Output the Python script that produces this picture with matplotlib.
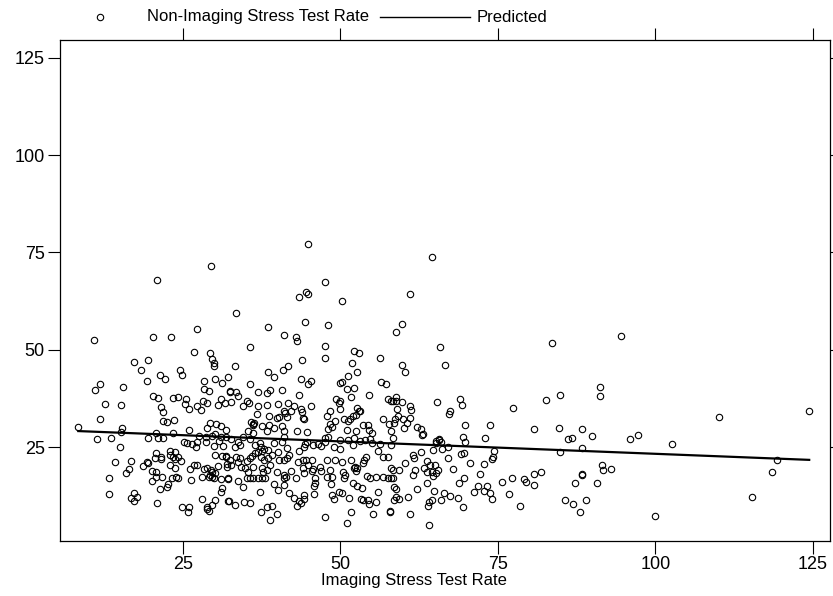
import numpy as np
import matplotlib
matplotlib.use("Agg")
import matplotlib.pyplot as plt
from matplotlib.lines import Line2D

plt.rcParams['font.family'] = ['Liberation Sans', 'DejaVu Sans']

# scatter points (imaging rate, non-imaging rate)
pts = [
    (44.9,77.2),(29.4,71.5),(20.9,67.9),(44.5,64.9),(44.9,64.3),(43.4,63.5),(33.5,59.5),(44.4,57.1),
    (27.2,55.3),(38.5,55.8),(41.0,53.8),(64.6,73.8),(47.5,67.3),(50.3,62.5),(61.1,64.3),(48.1,56.4),
    (59.8,56.6),(58.9,54.6),
    (83.6,51.8),(94.5,53.5),(84.9,38.4),(91.2,40.4),(91.2,38.1),(110.1,32.6),(124.3,34.2),(84.7,29.9),
    (88.3,29.7),(89.9,27.8),(97.2,28.0),(96.0,27.0),(86.1,27.0),(86.8,27.4),(84.9,23.6),(88.3,24.8),
    (102.6,25.7),(119.3,21.7),(118.5,18.6),(91.5,20.4),(91.7,19.0),(93.0,19.4),(88.3,17.9),(88.4,18.1),
    (87.3,15.7),(90.8,15.8),(85.6,11.4),(86.9,10.3),(88.9,11.3),(88.0,8.2),(99.9,7.3),(115.3,12.1),
    (10.9,52.4),(20.2,53.2),(23.1,53.2),(26.8,49.3),(29.3,49.2),(29.6,47.7),(29.9,46.5),(30.0,45.7),
    (17.2,46.9),(19.5,47.4),(18.3,44.8),(21.3,43.5),(22.1,42.6),(24.5,44.8),(24.9,43.6),(19.3,41.9),
    (28.3,42.0),(30.1,42.6),(31.2,41.5),(32.2,42.9),(11.8,41.3),(11.1,39.6),(15.5,40.4),(28.3,40.0),
    (29.1,39.5),(32.4,39.3),(20.3,38.1),(21.0,37.7),(23.5,37.7),(24.2,37.9),(25.5,37.3),(25.4,36.1),
    (26.0,34.8),(21.6,35.4),(21.9,34.1),(12.7,36.1),(15.2,35.7),(27.3,35.5),(27.8,34.5),(28.2,36.7),
    (28.9,36.2),(30.6,35.7),(31.0,37.3),(31.7,36.3),(11.9,32.1),(21.9,31.8),(22.5,31.4),(23.6,31.9),
    (8.4,30.1),(15.3,30.0),(15.2,28.8),(29.3,31.2),(30.3,30.9),(31.1,30.5),(31.8,29.4),(28.9,30.0),
    (26.0,29.3),(20.7,28.6),(23.5,28.6),(11.4,27.0),(13.6,27.2),(19.4,27.2),(21.1,27.4),(21.9,27.2),
    (27.5,27.8),(28.6,27.5),(29.6,27.9),(30.1,28.3),(31.0,27.7),(31.8,27.5),
    (15.0,24.9),(14.2,21.1),(16.7,21.3),(16.4,19.3),(16.0,18.2),(13.3,17.0),(13.3,12.8),(17.2,13.1),
    (17.7,12.2),(16.7,12.0),(17.3,11.1),(18.6,20.1),(19.3,21.1),(19.5,20.9),(20.7,23.4),(20.6,22.3),
    (21.5,22.4),(21.5,21.8),(20.1,18.8),(20.8,18.6),(20.7,17.4),(20.1,16.3),(21.7,17.4),(21.3,14.3),
    (20.9,10.6),(22.9,24.0),(23.8,23.8),(23.0,23.0),(23.4,22.5),(23.8,21.9),(24.2,22.4),(24.7,21.4),
    (22.9,20.4),(23.8,19.5),(22.6,15.4),(22.5,14.6),(23.2,17.0),(23.9,17.4),(24.3,17.0),(24.8,9.6),
    (26.0,9.7),(25.8,8.3),(26.2,19.3),(26.8,20.4),(27.2,20.4),(26.3,16.5),(25.2,26.4),(25.7,26.0),
    (26.4,25.7),(27.1,24.9),(27.3,26.4),(28.6,26.2),(30.0,25.2),(30.7,26.5),(31.3,25.3),(30.1,22.9),
    (31.2,22.8),(31.8,22.6),(30.6,20.1),(32.0,20.6),(28.3,19.3),(28.8,19.5),(29.4,19.1),(29.7,18.7),
    (30.1,18.3),(29.3,17.8),(29.6,17.4),(30.0,17.1),(29.1,17.3),(28.1,17.4),(31.0,16.9),(32.1,16.9),
    (31.2,14.5),(31.1,13.4),(32.1,11.2),(28.0,11.7),(30.1,11.4),(29.7,10.0),(28.8,9.5),(29.1,8.5),
    (28.9,9.2),
    (42.9,53.2),(43.1,52.3),(35.6,50.7),(47.6,50.9),(47.5,47.9),(52.1,49.8),(53.0,49.2),(51.9,46.7),
    (52.7,44.3),(56.3,48.0),(33.2,45.7),(38.5,44.3),(39.4,43.0),(40.9,44.9),(41.7,45.8),(43.9,47.3),
    (43.7,42.6),(44.8,41.1),(45.4,42.0),(50.0,41.5),(50.2,41.6),(51.2,43.3),(51.1,39.8),(52.1,40.2),
    (51.7,37.9),(56.4,41.8),(57.3,41.1),(54.5,38.3),(57.5,37.4),(58.1,36.8),(35.7,41.2),(32.5,39.1),
    (33.4,39.2),(33.7,38.1),(32.7,36.5),(37.0,39.2),(38.3,38.9),(38.9,39.7),(40.8,39.6),(43.5,38.4),
    (35.2,36.9),(35.5,36.4),(34.6,35.5),(37.0,35.5),(38.3,35.9),(40.1,36.1),(41.7,36.3),(42.7,35.5),
    (43.7,34.9),(45.3,35.6),(36.7,33.5),(41.1,34.3),(41.2,33.8),(42.1,34.3),(38.7,33.0),(40.0,32.5),
    (40.3,32.6),(41.5,32.6),(43.9,33.9),(44.0,32.4),(44.2,32.3),(35.8,31.4),(36.1,31.0),(36.3,31.2),
    (36.2,30.7),(35.3,29.1),(36.2,28.6),(37.5,30.5),(38.6,30.7),(38.4,29.2),(39.5,29.9),(40.7,30.5),
    (41.0,29.1),(43.1,29.0),(44.7,28.9),(49.3,37.3),(49.9,36.7),(49.8,36.2),(50.0,34.9),(48.4,34.2),
    (47.8,33.0),(49.1,31.8),(48.4,30.9),(48.7,30.2),(48.1,29.7),(50.6,32.2),(51.2,31.8),(51.6,32.1),
    (52.0,32.9),(52.5,33.2),(52.9,34.2),(52.7,35.0),(53.1,34.3),(51.1,29.5),(52.4,29.1),(53.6,30.7),
    (54.4,30.7),(54.5,29.4),(55.0,28.5),(56.8,32.2),(57.7,30.9),(58.1,29.1),
    (65.8,50.7),(59.8,46.2),(60.3,44.4),(66.6,46.1),(58.4,36.9),(58.8,36.8),(58.9,37.9),(59.8,36.6),
    (59.0,34.8),(61.1,35.5),(61.2,34.6),(65.3,36.6),(69.0,37.3),(69.3,35.9),(67.4,34.3),(67.2,33.4),
    (77.4,35.0),(82.7,37.0),(59.2,32.9),(58.7,32.3),(58.5,31.1),(60.0,32.1),(60.5,31.1),(61.1,32.5),
    (60.1,30.0),(62.2,30.1),(62.8,29.7),(63.1,28.3),(69.8,30.6),(73.8,30.6),(80.7,29.6),(69.4,27.6),
    (73.0,27.4),(65.6,27.0),
    (32.7,27.1),(33.8,26.4),(33.3,24.9),(34.0,25.5),(34.6,27.6),(35.6,27.1),(36.4,25.5),(37.2,26.0),
    (37.4,25.1),(37.9,24.5),(38.5,24.2),(39.5,26.0),(40.8,26.4),(41.1,27.6),(41.5,24.7),(43.4,24.0),
    (44.3,25.1),(44.4,25.7),(44.7,26.2),(45.7,25.5),(46.4,25.7),(47.0,25.3),(47.5,27.2),(47.5,26.4),
    (48.0,27.6),(49.0,25.1),(49.9,24.5),(50.0,26.8),(51.2,26.8),(52.2,27.4),(52.0,25.5),(53.1,26.5),
    (53.9,26.8),(55.0,26.0),(54.7,27.1),(56.3,25.7),(56.0,24.0),(56.8,22.5),(57.5,22.5),(58.1,25.5),
    (58.4,27.2),(31.9,22.5),(32.5,21.7),(32.7,20.4),(32.0,19.8),(33.5,22.5),(34.0,22.1),(33.8,21.1),
    (34.3,19.9),(35.1,21.4),(35.6,22.2),(35.9,22.8),(36.4,23.4),(36.9,23.8),(37.5,24.0),(34.8,19.5),
    (35.4,18.6),(36.2,19.9),(37.4,22.5),(37.9,21.7),(38.5,22.1),(39.1,22.9),(37.5,19.5),(37.7,18.5),
    (38.3,19.1),(38.8,20.4),(40.1,23.8),(40.2,21.7),(41.1,21.7),(41.5,22.1),(41.8,22.9),(43.3,21.2),
    (44.1,21.7),(44.5,21.7),(44.8,20.4),(45.5,21.7),(46.7,19.9),(47.8,21.7),(48.3,19.1),(49.1,21.7),
    (50.3,21.2),(51.7,21.7),(52.3,19.9),(52.6,19.5),(53.6,20.8),(54.1,22.5),(53.8,21.7),(58.0,19.5),
    (55.7,17.3),(56.8,17.3),(32.2,17.0),(33.8,16.3),(34.6,14.6),(35.1,17.0),(35.6,17.1),(36.2,17.0),
    (37.0,17.1),(37.6,17.0),(38.0,17.1),(37.2,13.4),(39.9,18.6),(41.1,17.9),(41.3,17.4),(41.1,17.0),
    (42.2,18.8),(42.9,17.1),(39.4,15.5),(40.1,13.9),(41.1,15.2),(41.8,13.1),(44.1,19.5),(44.3,18.4),
    (45.5,18.8),(45.7,19.3),(45.9,17.0),(46.0,15.7),(45.8,14.9),(47.0,18.8),(47.8,17.4),(48.7,17.3),
    (48.5,15.4),(50.4,18.6),(50.7,17.9),(50.6,17.0),(52.2,19.5),(52.4,18.8),(52.0,15.7),(52.7,14.9),
    (53.4,14.5),(54.2,17.5),(54.7,17.1),(57.6,17.1),(58.1,17.1),(58.5,14.6),(32.3,11.1),(33.3,10.0),
    (34.7,11.0),(35.6,10.5),(37.4,8.2),(38.4,9.6),(39.2,9.8),(38.8,6.2),(40.0,7.8),(42.7,11.8),
    (43.4,11.1),(44.2,12.7),(44.3,11.6),(43.7,10.5),(43.1,9.9),(45.8,12.8),(47.5,7.0),(48.7,12.7),
    (49.0,11.6),(49.8,13.4),(50.2,13.1),(51.3,11.8),(51.7,8.2),(51.0,5.4),(53.3,11.6),(53.6,11.4),
    (54.4,11.4),(54.6,10.3),(55.6,10.8),(55.2,7.7),(55.9,13.5),(57.8,8.6),(58.5,11.4),
    (63.0,28.1),(65.2,26.5),(65.6,26.9),(65.9,26.4),(65.2,26.0),(66.2,24.5),(67.1,25.1),(69.8,26.4),
    (74.4,24.0),(74.2,22.5),(74.0,21.9),(64.7,24.2),(61.6,22.9),(61.7,22.2),(62.8,23.6),(60.3,20.8),
    (59.3,19.1),(58.3,19.1),(58.4,17.1),(63.7,21.4),(63.3,19.7),(64.2,20.4),(65.0,20.4),(64.6,18.6),
    (65.5,19.1),(65.1,18.2),(64.7,17.6),(63.8,18.5),(61.8,19.1),(61.6,17.8),(67.0,22.1),(67.8,19.3),
    (70.6,21.0),(69.6,23.4),(69.2,23.2),(72.8,20.6),(68.9,15.7),(69.6,17.0),(72.1,18.1),(63.7,15.7),
    (62.2,14.3),(64.9,13.7),(58.8,14.1),(58.9,12.2),(59.3,11.6),(60.7,12.2),(57.9,8.3),(61.0,7.7),
    (64.0,5.0),(63.9,9.8),(64.1,10.9),(64.6,11.5),(65.9,11.3),(66.5,13.3),(67.4,12.4),(68.6,12.0),
    (69.4,9.6),(71.2,13.4),(71.9,14.9),(72.8,13.7),(73.3,14.9),(73.8,13.1),(74.1,11.6),(75.6,16.1),
    (77.3,17.0),(76.7,13.0),(78.5,9.9),(79.2,16.8),(79.4,16.1),(80.7,18.1),(81.9,18.5),(80.8,15.2),
]
imaging = [p[0] for p in pts]
non_imaging = [p[1] for p in pts]

# fitted line end points
pred_x = [8.4, 124.4]
pred_y = [29.1, 21.7]

ticks = [25, 50, 75, 100, 125]

fig = plt.figure(figsize=(8.33, 5.96), dpi=100)
ax = fig.add_axes([60/833, 1-541/596, 770/833, 501/596])

ax.plot(imaging, non_imaging, 'o', mfc='none', mec='black', ms=4.6, mew=0.8, zorder=2)
ax.plot(pred_x, pred_y, '-', color='black', lw=1.6, zorder=3)

ax.set_xlim(5.5, 127.7)
ax.set_ylim(0.85, 129.6)
ax.set_xticks(ticks)
ax.set_yticks(ticks)
ax.tick_params(direction='out', length=9, width=0.8, labelsize=13, pad=2,
               top=True, right=True, labeltop=False, labelright=False)
for s in ax.spines.values():
    s.set_linewidth(0.9)

fig.text(0.497, 1-580/596, 'Imaging Stress Test Rate', ha='center', va='center', fontsize=12)

# legend drawn at the top
ly = 1-17/596
fig.add_artist(Line2D([100/833], [ly], marker='o', mfc='none', mec='black', ms=4.6, mew=0.8))
fig.text(147/833, ly, 'Non-Imaging Stress Test Rate', ha='left', va='center', fontsize=12)
fig.add_artist(Line2D([380/833, 470/833], [ly, ly], color='black', lw=1.0))
fig.text(477/833, ly, 'Predicted', ha='left', va='center', fontsize=12)

fig.savefig('out.png', dpi=100)
